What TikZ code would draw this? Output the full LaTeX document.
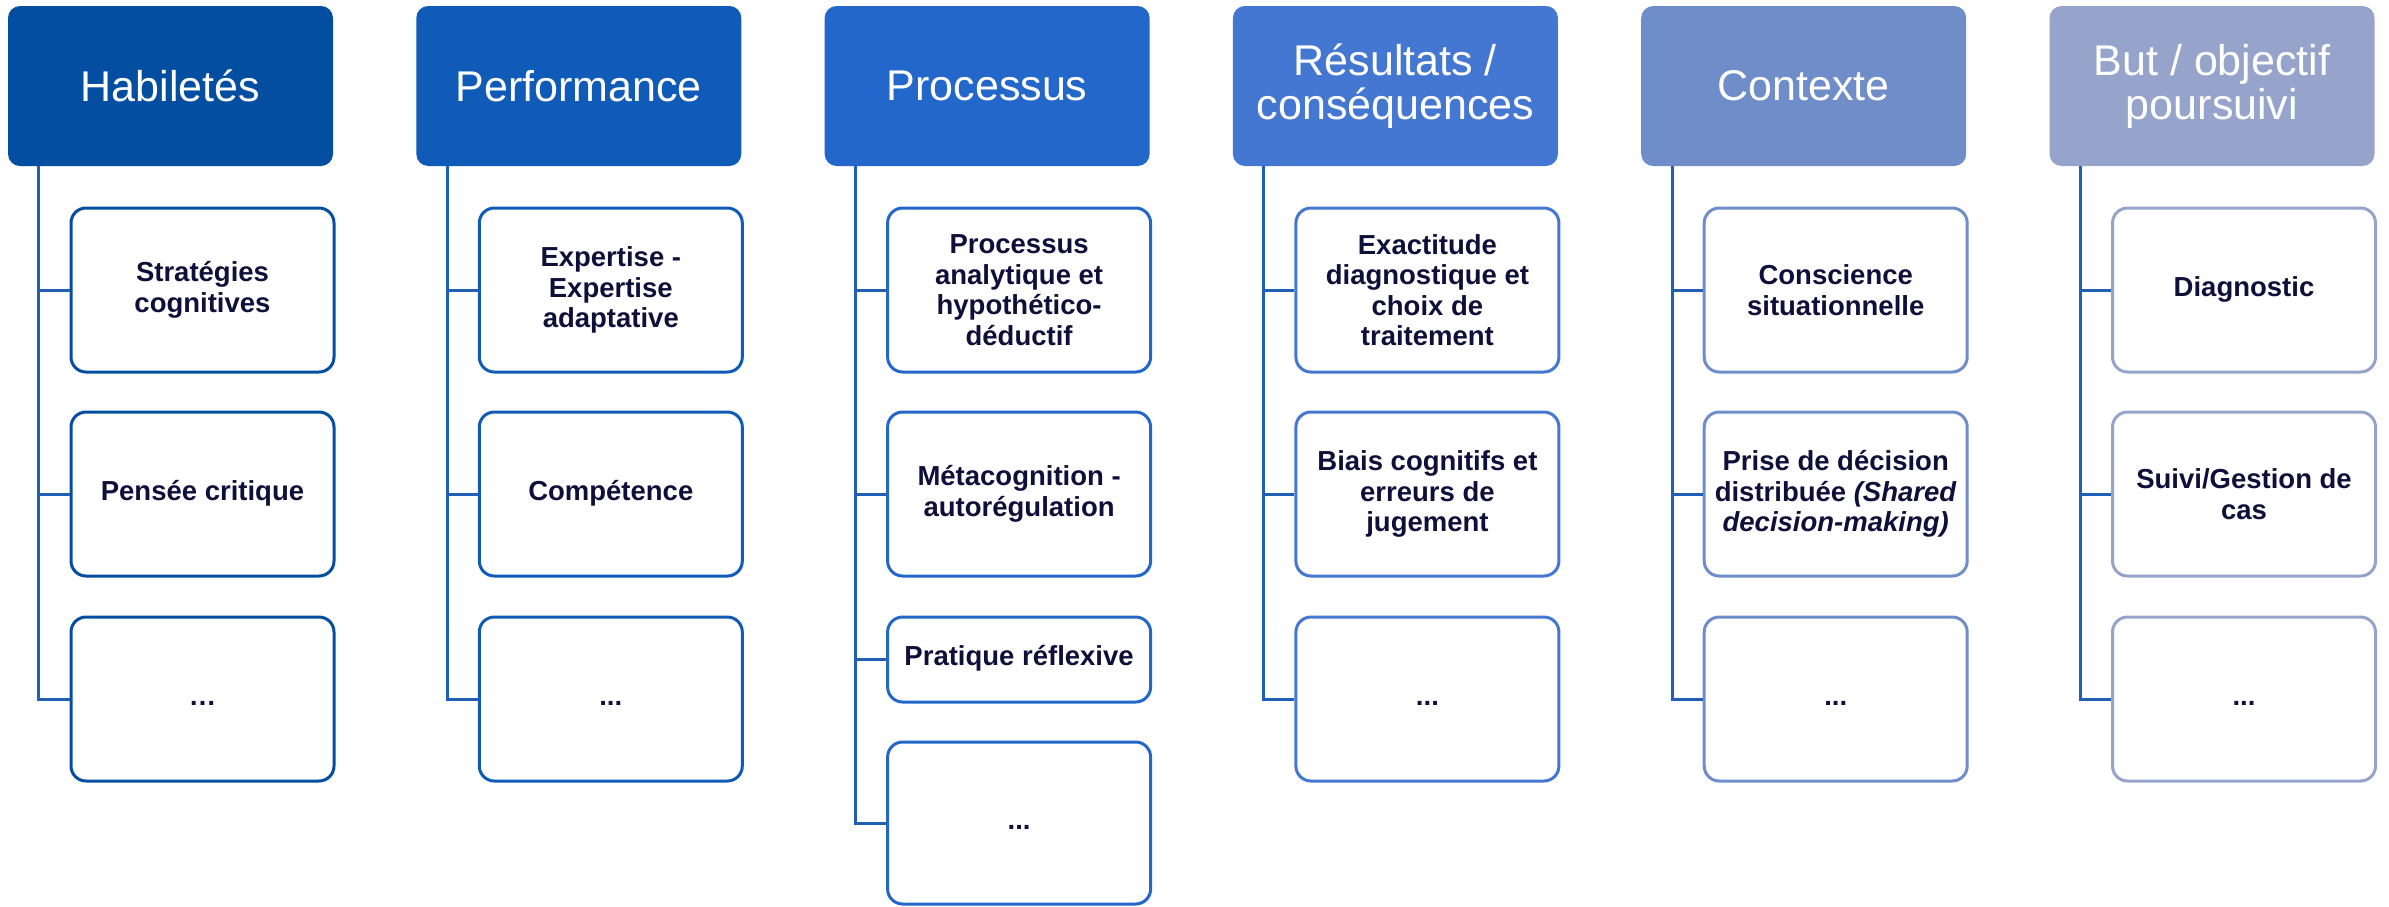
\documentclass[tikz,border=0pt]{standalone}
\usepackage{fontspec}
\setmainfont{Liberation Sans}
\definecolor{cA}{HTML}{034EA0}
\definecolor{cB}{HTML}{105BB7}
\definecolor{cC}{HTML}{2367CB}
\definecolor{cD}{HTML}{4477D1}
\definecolor{cE}{HTML}{6F8DC8}
\definecolor{cF}{HTML}{96A4CB}
\definecolor{connc}{HTML}{1F5FB5}
\definecolor{txt}{HTML}{0E103A}
\tikzset{
  head/.style={rectangle, rounded corners=12pt, fill=#1, minimum width=325pt, minimum height=160pt, inner sep=0pt, text=white, align=center, font=\fontsize{43}{44}\selectfont},
  leaf/.style={rectangle, rounded corners=15pt, draw=#1, line width=3pt, fill=white, minimum width=263pt, minimum height=164pt, inner sep=0pt, text=txt, align=center, font=\bfseries\fontsize{27.5}{30.5}\selectfont},
  conn/.style={draw=connc, line width=3pt}
}
\begin{document}
\begin{tikzpicture}[x=1pt,y=-1pt]
\useasboundingbox (0,0) rectangle (2389,906);
% headers
\node[head=cA] (h1) at (170.5,86) {Habiletés};
\node[head=cB] (h2) at (578.8,86) {Performance};
\node[head=cC] (h3) at (987.1,86) {Processus};
\node[head=cD] (h4) at (1395.4,86) {Résultats /\\conséquences};
\node[head=cE] (h5) at (1803.7,86) {Contexte};
\node[head=cF] (h6) at (2212,86) {But / objectif\\poursuivi};
% column 1
\node[leaf=cA] (c11) at (202.5,290) {Stratégies\\cognitives};
\node[leaf=cA] (c12) at (202.5,494) {\strut Pensée critique};
\node[leaf=cA] (c13) at (202.5,699) {\strut …};
% column 2
\node[leaf=cB] (c21) at (610.8,290) {Expertise -\\Expertise\\adaptative};
\node[leaf=cB] (c22) at (610.8,494) {\strut Compétence};
\node[leaf=cB] (c23) at (610.8,699) {\strut ...};
% column 3
\node[leaf=cC] (c31) at (1019.1,290) {Processus\\analytique et\\hypothético-\\déductif};
\node[leaf=cC] (c32) at (1019.1,494) {Métacognition -\\autorégulation};
\node[leaf=cC, minimum height=85pt] (c33) at (1019.1,659.5) {\strut Pratique réflexive};
\node[leaf=cC, minimum height=162pt] (c34) at (1019.1,823) {\strut ...};
% column 4
\node[leaf=cD] (c41) at (1427.4,290) {Exactitude\\diagnostique et\\choix de\\traitement};
\node[leaf=cD] (c42) at (1427.4,494) {Biais cognitifs et\\erreurs de\\jugement};
\node[leaf=cD] (c43) at (1427.4,699) {\strut ...};
% column 5
\node[leaf=cE] (c51) at (1835.7,290) {Conscience\\situationnelle};
\node[leaf=cE] (c52) at (1835.7,494) {Prise de décision\\distribuée \textit{(Shared}\\\textit{decision-making)}};
\node[leaf=cE] (c53) at (1835.7,699) {\strut ...};
% column 6
\node[leaf=cF] (c61) at (2244,290) {\strut Diagnostic};
\node[leaf=cF] (c62) at (2244,494) {Suivi/Gestion de\\cas};
\node[leaf=cF] (c63) at (2244,699) {\strut ...};
% connectors
\foreach \h/\list in {h1/{c11,c12,c13}, h2/{c21,c22,c23}, h3/{c31,c32,c33,c34}, h4/{c41,c42,c43}, h5/{c51,c52,c53}, h6/{c61,c62,c63}}{
  \foreach \c in \list {
    \draw[conn] ([xshift=31pt]\h.south west) |- (\c.west);
  }
}
\end{tikzpicture}
\end{document}
